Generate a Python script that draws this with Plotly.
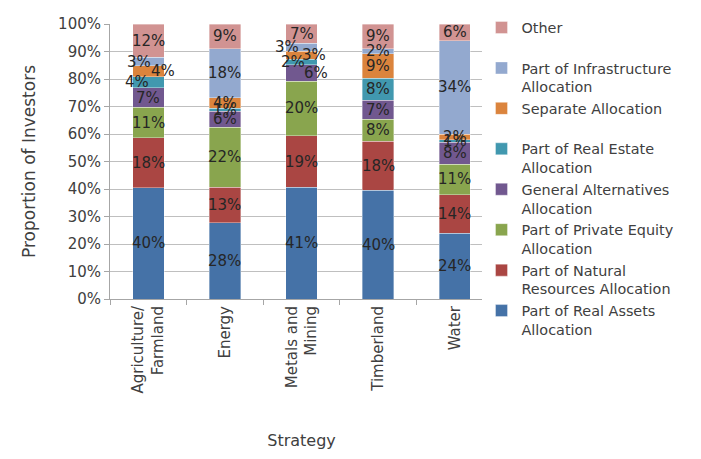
import numpy as np
import plotly.graph_objects as go

# Strategies on the x axis
strategies = ["Agriculture/<br>Farmland", "Energy", "Metals and<br>Mining", "Timberland", "Water"]

# Share of investors (%) for each allocation source, per strategy
real_assets = [40, 28, 41, 40, 24]
natural_resources = [18, 13, 19, 18, 14]
private_equity = [11, 22, 20, 8, 11]
general_alternatives = [7, 6, 6, 7, 8]
real_estate = [4, 1, 2, 8, 1]
separate = [4, 4, 3, 9, 2]
infrastructure = [3, 18, 3, 2, 34]
other = [12, 9, 7, 9, 6]

series_names = [
    "Part of Real Assets<br>Allocation",
    "Part of Natural<br>Resources Allocation",
    "Part of Private Equity<br>Allocation",
    "General Alternatives<br>Allocation",
    "Part of Real Estate<br>Allocation",
    "Separate Allocation<br> ",
    "Part of Infrastructure<br>Allocation",
    "Other<br> ",
]
series_values = [real_assets, natural_resources, private_equity, general_alternatives,
                 real_estate, separate, infrastructure, other]
colors = ["#4572A7", "#AA4643", "#89A54E", "#71588F", "#4198AF", "#DB843D", "#93A9CF", "#D19392"]

# Horizontal nudges (px) for labels that would collide in thin segments
label_shift = {
    (6, 0): -9, (5, 0): 15, (4, 0): -11,
    (6, 2): -15, (5, 2): 12, (4, 2): -9, (3, 2): 14,
}

font_family = "DejaVu Sans"
text_color = "#262626"

fig = go.Figure()
for name, vals, col in zip(series_names, series_values, colors):
    fig.add_trace(go.Bar(
        x=strategies, y=vals, name=name,
        marker=dict(color=col, line=dict(color="rgba(255,255,255,0.6)", width=0.6)),
        width=0.41,
    ))

# Data labels at the middle of each (normalised) segment
vals = np.array(series_values, dtype=float)
norm = vals / vals.sum(axis=0) * 100
tops = np.cumsum(norm, axis=0)
mids = tops - norm / 2
for s in range(vals.shape[0]):
    for c in range(vals.shape[1]):
        fig.add_annotation(
            x=strategies[c], y=mids[s, c], text=f"{int(vals[s, c])}%",
            showarrow=False, xshift=label_shift.get((s, c), 0),
            font=dict(family=font_family, size=15, color=text_color),
        )

fig.update_layout(
    width=701, height=459,
    margin=dict(l=110, r=208, t=19, b=155),
    barmode="stack", barnorm="percent",
    paper_bgcolor="white", plot_bgcolor="white",
    font=dict(family=font_family, size=15, color="#404040"),
    showlegend=True,
    legend=dict(
        traceorder="reversed", valign="top",
        x=0.97, xanchor="left", y=1.045, yanchor="top",
        font=dict(family=font_family, size=14.4, color="#404040"),
        itemwidth=30, tracegroupgap=0, maxheight=1,
    ),
    xaxis=dict(
        title=dict(text="Strategy", font=dict(size=16), standoff=42),
        tickangle=-90, ticks="outside", tickson="boundaries", ticklen=5,
        tickcolor="#A6A6A6", showline=True, linecolor="#A6A6A6", linewidth=1,
        tickfont=dict(size=15),
    ),
    yaxis=dict(
        title=dict(text="Proportion of Investors", font=dict(size=17), standoff=18),
        range=[0, 100], dtick=10, ticksuffix="%",
        ticks="outside", ticklen=5, tickcolor="#A6A6A6",
        showline=True, linecolor="#A6A6A6", linewidth=1,
        showgrid=True, gridcolor="#BFBFBF", gridwidth=1,
        zeroline=False, tickfont=dict(size=15),
    ),
)

fig.write_html("out.html")
